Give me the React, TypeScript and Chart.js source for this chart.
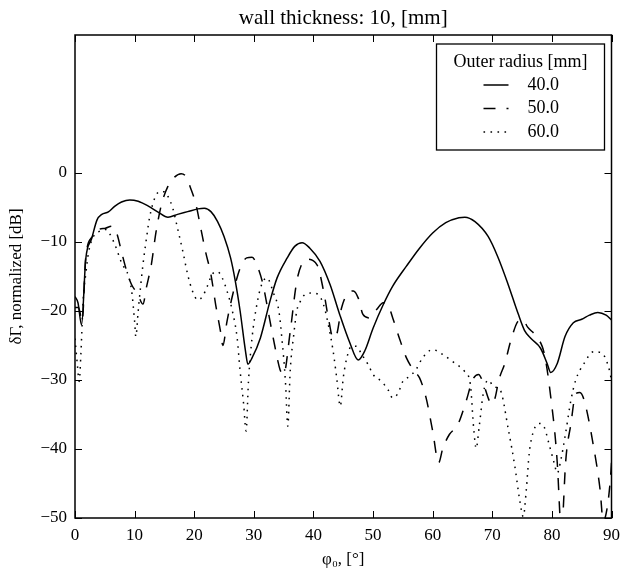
import { useEffect, useRef } from "react";
import { Chart, registerables } from "chart.js";

Chart.register(...registerables);

const SERIF = '"Liberation Serif", "Times New Roman", serif';

// Incidence angle φ0 in degrees and normalized δΓ in dB, one pair per outer radius.
const angleR40 = [0, 0.5, 1.1, 1.8, 2.8, 3.7, 4.5, 5.6, 6.7, 7.8, 9.2, 10.6, 12.3, 14.0, 15.6, 17.2, 18.9, 20.6, 21.7, 22.8, 23.9, 25.0, 26.1, 26.9, 27.7, 28.6, 29.0, 29.7, 31.1, 32.7, 33.9, 35.6, 36.9, 38.1, 39.4, 41.1, 42.8, 44.4, 46.1, 47.5, 48.6, 50.0, 51.7, 53.3, 55.6, 57.8, 60.0, 62.2, 64.4, 65.4, 67.1, 69.3, 70.9, 72.6, 74.3, 75.4, 76.5, 78.1, 79.2, 79.8, 80.9, 82.2, 83.6, 85.0, 86.3, 87.7, 89.1, 90];
const gammaR40 = [-17.9, -18.8, -22, -12.5, -9.5, -6.8, -6.0, -5.65, -4.8, -4.2, -3.9, -4.1, -4.8, -5.7, -6.4, -6.0, -5.6, -5.2, -5.1, -5.6, -7.0, -9.2, -12.3, -15.7, -20, -25.8, -27.7, -26.8, -23.9, -18.6, -15.2, -12.3, -10.6, -10.1, -10.9, -12.8, -16.2, -20.5, -24.6, -27.1, -25.8, -22.5, -19.1, -16.4, -13.5, -10.9, -8.7, -7.2, -6.5, -6.4, -7.05, -9.2, -12.1, -16, -20.3, -22.8, -24, -25.4, -27.6, -28.9, -27.6, -23.7, -21.7, -21.2, -20.6, -20.2, -20.6, -21.3];

const angleR50 = [0, 0.6, 1.2, 1.8, 2.9, 4.0, 5.1, 6.2, 7.0, 7.8, 8.7, 9.5, 10.5, 11.4, 12.0, 12.8, 13.6, 14.5, 15.6, 16.7, 17.8, 18.6, 19.4, 20.3, 21.1, 21.9, 22.8, 23.6, 24.4, 24.8, 25.5, 26.6, 27.7, 28.8, 29.7, 30.5, 31.5, 32.5, 33.5, 34.4, 35.0, 36.1, 37.2, 38.3, 38.9, 40.6, 41.7, 42.5, 43.3, 43.9, 44.7, 45.8, 46.7, 47.5, 48.3, 49.4, 50.6, 51.7, 52.5, 53.3, 54.4, 55.6, 56.9, 57.8, 58.9, 60.0, 61.0, 61.7, 62.8, 64.2, 65.6, 66.7, 67.7, 68.5, 69.5, 70.0, 70.5, 71.1, 72.1, 73.2, 74.3, 75.1, 75.9, 77.4, 78.7, 79.8, 80.9, 81.4, 81.6, 81.8, 82.3, 83.2, 84.0, 84.7, 85.4, 87.0, 88.1, 88.6, 89.3, 89.8, 90];
const gammaR50 = [-19.5, -19.5, -21.5, -12.3, -9.2, -8.2, -8.0, -7.7, -8.7, -11.4, -14.3, -16.2, -17.5, -19, -16.5, -13.3, -8.5, -4.6, -1.9, -0.6, -0.1, -0.5, -2.2, -4.6, -8.0, -11.4, -14.7, -19.1, -22.9, -25, -21.5, -17.1, -13.8, -12.3, -12.2, -13.3, -16, -20.5, -25, -28.5, -29.2, -23, -15.7, -12.8, -12.5, -13.3, -17.1, -21, -23.9, -23.4, -19.6, -17.4, -17.1, -18.1, -20.5, -21, -19.8, -18.8, -19.1, -21, -23.9, -26.8, -28.7, -29.7, -32.6, -37.4, -42, -39.9, -37.9, -36.5, -33.1, -30, -29.2, -30.5, -33, -33.5, -32.5, -30, -27.6, -24, -21.5, -21.2, -22.3, -23.7, -26.1, -32.4, -42, -50.5, -53, -50.5, -42, -36.3, -32, -31.8, -32.9, -39.7, -46, -50.5, -48.4, -44.5, -42];

const angleR60 = [0, 0.4, 0.7, 1.0, 1.4, 1.8, 2.3, 3.1, 4.0, 5.1, 5.6, 6.7, 7.8, 9.0, 9.5, 10.0, 10.2, 10.6, 11.0, 11.4, 12.0, 12.5, 13.4, 14.2, 15.0, 15.6, 16.4, 17.2, 18.1, 18.9, 19.7, 20.6, 21.4, 22.2, 23.0, 23.9, 24.7, 25.5, 26.4, 27.2, 27.7, 28.3, 28.7, 29.1, 29.7, 30.5, 31.3, 32.2, 33.3, 34.2, 34.7, 35.3, 35.7, 36.1, 36.7, 37.2, 37.8, 38.6, 39.7, 40.8, 41.7, 42.5, 43.3, 43.9, 44.5, 45.0, 45.6, 46.4, 47.2, 48.1, 49.2, 50.0, 51.4, 52.5, 53.3, 54.2, 55.0, 56.1, 57.2, 58.3, 60.0, 61.7, 63.3, 65.3, 66.3, 66.9, 67.3, 67.8, 68.5, 69.3, 70.3, 71.3, 72.7, 73.8, 74.6, 75.2, 75.7, 76.2, 77.0, 77.9, 78.7, 79.5, 80.4, 80.9, 81.5, 82.3, 83.2, 84.0, 85.4, 87.0, 88.4, 89.5, 90];
const gammaR60 = [-24, -27.8, -30.2, -26, -18, -14.7, -11.4, -9.2, -8.5, -8.2, -8.5, -10.4, -13, -15, -17.1, -21.5, -23.7, -20, -16.5, -13.3, -9.4, -6.5, -3.6, -2.7, -2.7, -3.4, -5.1, -8, -11.4, -14.7, -17.1, -18.4, -17.9, -16.4, -14.7, -14.3, -15.2, -17.1, -20, -23.9, -28.7, -33.6, -37.4, -30.2, -23.9, -19.1, -16.2, -15.2, -17.4, -20, -23.9, -30.2, -36.7, -28.7, -23.4, -20, -18.6, -17.6, -17.4, -17.6, -19.1, -22, -25.8, -29.7, -33.8, -29.7, -26.8, -25.1, -25.1, -26.3, -27.8, -29.2, -30.2, -31.4, -32.6, -31.9, -30.2, -29.5, -28.5, -26.8, -25.6, -26.3, -27.3, -28.7, -30.5, -37.2, -39.9, -36.8, -31.9, -30, -31, -31.4, -37.2, -42.6, -47.4, -49.8, -46, -40.6, -37.2, -36.3, -36.8, -39.2, -42.1, -43.5, -41.6, -37.7, -32.9, -30, -27.6, -25.9, -26.1, -28.1, -30];

const radiusLabels = ["40.0", "50.0", "60.0"];
const legendTitle = "Outer radius [mm]";
const chartTitle = "wall thickness: 10, [mm]";
const xAxisTitle = "\u03c6\u2080, [\u00b0]";
const yAxisTitle = "\u03b4\u0393, normalized [dB]";
const xTickValues = [0, 10, 20, 30, 40, 50, 60, 70, 80, 90];
const yTickValues = [-50, -40, -30, -20, -10, 0];

const toPoints = (xs: number[], ys: number[]) => xs.map((x, i) => ({ x, y: ys[i] }));

// Box frame with inward ticks, the title and the boxed legend.
const framePlugin = {
  id: "frame",
  afterDraw(chart: any) {
    const { ctx, chartArea } = chart;
    const { left, right, top, bottom } = chartArea;
    const xs = chart.scales.x;
    const ys = chart.scales.y;
    ctx.save();
    ctx.strokeStyle = "#000";
    ctx.lineWidth = 1;
    const tick = 7;
    ctx.beginPath();
    xTickValues.forEach((v) => {
      const px = Math.round(xs.getPixelForValue(v)) + 0.5;
      ctx.moveTo(px, bottom);
      ctx.lineTo(px, bottom - tick);
      ctx.moveTo(px, top);
      ctx.lineTo(px, top + tick);
    });
    yTickValues.forEach((v) => {
      const py = Math.round(ys.getPixelForValue(v)) + 0.5;
      ctx.moveTo(left, py);
      ctx.lineTo(left + tick, py);
      ctx.moveTo(right, py);
      ctx.lineTo(right - tick, py);
    });
    ctx.stroke();

    ctx.lineWidth = 1.5;
    ctx.strokeRect(left, top, right - left, bottom - top);

    ctx.fillStyle = "#000";
    ctx.font = `21px ${SERIF}`;
    ctx.textAlign = "center";
    ctx.textBaseline = "middle";
    ctx.fillText(chartTitle, (left + right) / 2, 18);

    // legend
    const lx = right - 175;
    const ly = top + 9;
    const lw = 168;
    const lh = 106;
    ctx.fillStyle = "#fff";
    ctx.fillRect(lx, ly, lw, lh);
    ctx.lineWidth = 1.3;
    ctx.strokeRect(lx, ly, lw, lh);
    ctx.fillStyle = "#000";
    ctx.font = `18px ${SERIF}`;
    ctx.textAlign = "center";
    ctx.fillText(legendTitle, lx + lw / 2, ly + 18);
    chart.data.datasets.forEach((ds: any, i: number) => {
      const cy = ly + 41 + i * 23.5;
      ctx.save();
      ctx.strokeStyle = ds.borderColor;
      ctx.lineWidth = ds.borderWidth;
      ctx.setLineDash(ds.borderDash || []);
      ctx.beginPath();
      ctx.moveTo(lx + 47, cy);
      ctx.lineTo(lx + 72, cy);
      ctx.stroke();
      ctx.restore();
      ctx.textAlign = "left";
      ctx.fillText(ds.label, lx + 91, cy);
    });
    ctx.restore();
  },
};

const minus = (v: number) => (v < 0 ? "\u2212" + Math.abs(v) : String(v));

export default function App() {
  const ref = useRef<HTMLCanvasElement | null>(null);

  useEffect(() => {
    if (!ref.current) return;
    const common = {
      borderColor: "#000",
      borderWidth: 1.5,
      pointRadius: 0,
      fill: false,
      cubicInterpolationMode: "monotone" as const,
      clip: 0,
    };
    const chart = new Chart(ref.current, {
      type: "line",
      data: {
        datasets: [
          { ...common, label: radiusLabels[0], data: toPoints(angleR40, gammaR40) },
          { ...common, label: radiusLabels[1], data: toPoints(angleR50, gammaR50), borderDash: [12, 11] },
          { ...common, label: radiusLabels[2], data: toPoints(angleR60, gammaR60), borderDash: [1.6, 5.4] },
        ],
      },
      options: {
        responsive: false,
        animation: false,
        events: [],
        layout: { padding: { top: 35, right: 9, bottom: 0, left: 0 } },
        plugins: { legend: { display: false }, title: { display: false }, tooltip: { enabled: false } },
        scales: {
          x: {
            type: "linear",
            min: 0,
            max: 90,
            grid: { display: false, drawTicks: false },
            border: { display: false },
            afterBuildTicks: (s: any) => {
              s.ticks = xTickValues.map((value) => ({ value }));
            },
            afterFit: (s: any) => {
              s.height = 56;
            },
            ticks: { color: "#000", font: { family: SERIF, size: 17 }, padding: 7, maxRotation: 0 },
            title: {
              display: true,
              text: xAxisTitle,
              color: "#000",
              font: { family: SERIF, size: 17 },
              padding: { top: 0, bottom: 4 },
            },
          },
          y: {
            type: "linear",
            min: -50,
            max: 20,
            grid: { display: false, drawTicks: false },
            border: { display: false },
            afterBuildTicks: (s: any) => {
              s.ticks = yTickValues.map((value) => ({ value }));
            },
            afterFit: (s: any) => {
              s.width = 75;
            },
            ticks: { color: "#000", font: { family: SERIF, size: 17 }, padding: 8, callback: (v: any) => minus(Number(v)) },
            title: {
              display: true,
              text: yAxisTitle,
              color: "#000",
              font: { family: SERIF, size: 17 },
              padding: { top: 6, bottom: 0 },
            },
          },
        },
      },
      plugins: [framePlugin],
    });
    return () => chart.destroy();
  }, []);

  return (
    <div style={{ position: "fixed", left: 0, top: 0, width: 627, height: 574, background: "#fff" }}>
      <canvas ref={ref} width={627} height={574} />
    </div>
  );
}
